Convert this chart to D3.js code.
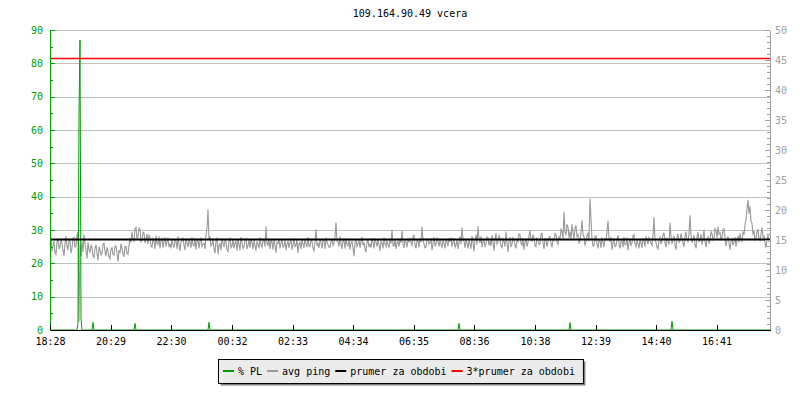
<!DOCTYPE html>
<html>
<head>
<meta charset="utf-8">
<script src="https://cdn.jsdelivr.net/npm/d3@7"></script>
<style>
body { margin: 0; background: #fff; }
text { font-family: "DejaVu Sans Mono", monospace; font-size: 10px; }
</style>
</head>
<body>
<div id="chart"></div>
<script>
var title = "109.164.90.49 vcera";
var startMinute = 18 * 60 + 28;
var timeTicks = ["18:28", "20:29", "22:30", "00:32", "02:33", "04:34",
    "06:35", "08:36", "10:38", "12:39", "14:40", "16:41"];

// avg ping [ms], one sample every 2 minutes from 18:28
var pingStep = 2;
var ping = [
    14.2, 15.4, 13.1, 14.0, 14.8, 12.9, 12.6, 14.7, 15.2, 13.5, 13.9, 15.1, 14.5, 13.2, 12.4, 14.4, 15.6, 14.0, 13.3, 15.0,
    14.9, 12.8, 13.6, 15.3, 15.4, 13.7, 14.1, 15.8, 16.4, 1.4, 14.2, 12.3, 14.8, 13.0, 15.9, 14.5, 13.2, 11.9, 14.6, 13.4,
    12.9, 14.1, 13.8, 12.4, 12.1, 13.6, 14.2, 12.8, 11.6, 13.9, 13.4, 12.5, 12.7, 14.3, 14.5, 13.0, 12.3, 13.8, 13.1, 12.2,
    11.9, 13.5, 13.7, 12.6, 12.5, 14.0, 14.0, 12.9, 11.4, 13.3, 12.8, 14.4, 13.6, 12.7, 12.2, 13.9, 13.9, 12.8, 12.6, 14.1,
    15.3, 14.6, 16.4, 15.1, 14.8, 16.9, 17.1, 15.2, 15.6, 17.0, 16.8, 14.7, 14.9, 16.3, 16.2, 14.5, 15.1, 16.0, 14.3, 15.8,
    15.5, 14.0, 13.8, 15.2, 14.9, 13.5, 15.7, 14.4, 14.2, 15.6, 13.6, 14.8, 15.2, 13.7, 14.6, 15.5, 13.9, 14.7, 15.4, 13.8,
    14.4, 13.6, 15.1, 14.3, 13.7, 15.0, 14.8, 13.5, 15.6, 14.2, 13.2, 14.6, 14.9, 15.4, 14.1, 13.3, 15.3, 14.5, 13.8, 15.1,
    14.6, 13.7, 15.5, 14.2, 14.0, 15.3, 13.4, 14.7, 15.2, 13.6, 14.7, 15.4, 13.9, 14.3, 14.5, 13.5, 15.8, 17.0, 20.1, 15.0,
    15.6, 14.0, 14.2, 15.3, 13.5, 12.8, 14.9, 15.4, 12.6, 14.1, 14.4, 13.3, 15.2, 14.6, 13.8, 15.0, 14.7, 13.4, 13.1, 14.8,
    15.4, 13.7, 14.0, 15.2, 13.6, 14.5, 14.8, 13.2, 15.1, 14.3, 13.3, 15.5, 14.5, 13.6, 13.9, 14.9, 15.3, 13.5, 14.1, 15.0,
    13.7, 15.2, 14.6, 13.5, 15.0, 14.1, 13.2, 14.8, 14.3, 13.6, 15.4, 14.2, 13.8, 15.1, 14.9, 13.9, 17.3, 14.4, 14.1, 15.3,
    13.5, 14.9, 14.7, 13.4, 15.1, 14.2, 12.9, 14.6, 14.4, 15.2, 13.6, 14.5, 15.2, 13.8, 14.0, 15.0, 13.3, 14.4, 14.8, 13.7,
    14.5, 15.1, 13.4, 14.2, 15.3, 13.9, 14.1, 15.0, 12.8, 14.3, 14.6, 13.5, 15.0, 14.4, 13.7, 15.2, 14.3, 13.8, 15.5, 14.0,
    13.9, 15.1, 14.8, 13.6, 13.2, 14.7, 16.8, 14.0, 14.4, 13.7, 15.1, 14.6, 13.6, 15.0, 14.9, 13.5, 15.4, 14.7, 14.2, 13.8,
    13.8, 14.7, 15.2, 14.1, 14.5, 15.6, 17.9, 14.8, 14.7, 13.9, 15.6, 14.4, 13.5, 15.0, 14.9, 13.6, 15.3, 14.2, 14.0, 15.2,
    13.4, 14.5, 14.8, 13.7, 12.3, 14.6, 15.1, 13.9, 14.3, 15.0, 13.7, 14.8, 15.5, 14.1, 14.6, 13.4, 13.1, 14.7, 14.9, 13.8,
    14.4, 13.7, 15.3, 14.6, 13.6, 15.1, 14.7, 13.9, 15.0, 14.2, 13.2, 14.8, 14.5, 13.6, 15.4, 14.3, 13.9, 15.0, 14.2, 13.8,
    15.1, 14.4, 16.7, 14.1, 14.0, 15.2, 13.5, 14.6, 14.8, 13.9, 15.2, 14.5, 16.6, 14.3, 13.7, 15.1, 14.6, 13.8, 15.0, 14.7,
    15.4, 14.5, 14.1, 15.6, 15.8, 14.2, 13.6, 14.9, 14.9, 13.8, 15.3, 14.6, 17.2, 15.0, 14.4, 13.7, 13.8, 15.2, 15.1, 14.3,
    14.6, 15.3, 13.3, 14.5, 15.5, 14.0, 14.2, 15.4, 14.8, 13.9, 15.0, 14.4, 13.7, 15.1, 14.5, 13.6, 15.2, 14.7, 14.0, 15.3,
    14.7, 15.4, 13.9, 14.6, 15.3, 13.8, 14.2, 15.1, 13.5, 14.7, 15.6, 14.3, 17.1, 15.0, 14.8, 13.7, 15.2, 14.5, 13.6, 15.0,
    14.4, 13.5, 15.7, 14.6, 13.1, 14.9, 15.9, 14.2, 17.3, 15.1, 14.5, 15.6, 13.8, 14.7, 15.0, 13.9, 14.3, 15.5, 15.4, 14.1,
    14.9, 14.0, 15.8, 14.6, 13.2, 15.1, 16.1, 14.3, 14.6, 15.7, 15.3, 14.0, 13.7, 15.2, 14.8, 13.9, 16.4, 14.5, 13.0, 14.8,
    15.5, 13.8, 14.3, 15.4, 15.1, 14.2, 13.6, 15.0, 14.7, 16.0, 15.9, 14.4, 14.1, 15.3, 13.4, 14.6, 15.2, 13.9, 14.6, 15.7,
    16.6, 14.9, 14.8, 15.9, 15.4, 14.1, 13.9, 15.3, 15.1, 14.2, 14.4, 15.8, 16.2, 14.6, 13.5, 15.2, 15.0, 13.9, 14.7, 15.5,
    15.6, 14.4, 13.8, 15.1, 14.9, 16.1, 16.0, 14.7, 14.3, 15.5, 15.3, 16.8, 16.5, 15.2, 19.7, 16.4, 15.8, 17.6, 17.2, 15.4,
    16.4, 15.1, 17.6, 16.2, 15.2, 17.0, 17.4, 15.6, 15.9, 14.5, 14.8, 16.3, 18.3, 15.9, 15.5, 14.2, 14.6, 15.8, 16.1, 14.9,
    21.9, 18.5, 15.2, 14.0, 14.1, 15.6, 15.7, 14.3, 13.6, 15.0, 14.9, 13.7, 15.4, 14.6, 13.8, 15.2, 15.0, 16.4, 18.2, 15.3,
    14.7, 15.5, 13.4, 14.5, 15.3, 13.9, 14.0, 15.1, 15.8, 14.4, 13.6, 14.8, 14.9, 13.8, 15.5, 14.2, 14.2, 15.4, 13.3, 14.6,
    15.1, 14.0, 14.6, 15.7, 15.9, 14.3, 13.9, 15.0, 14.4, 13.6, 15.2, 14.5, 13.7, 15.3, 14.8, 13.9, 15.6, 14.9, 14.3, 15.4,
    15.0, 14.4, 14.1, 15.9, 18.8, 15.2, 14.6, 13.8, 13.5, 15.0, 15.4, 14.3, 14.9, 15.8, 16.2, 14.5, 13.8, 15.3, 15.1, 14.2,
    17.9, 15.6, 14.3, 15.2, 15.7, 14.1, 13.4, 15.5, 16.0, 14.6, 14.8, 16.1, 15.3, 14.4, 13.9, 15.6, 16.4, 15.0, 14.7, 16.0,
    19.1, 15.8, 14.5, 15.2, 15.8, 14.3, 13.6, 15.5, 16.3, 14.6, 15.0, 16.0, 14.2, 15.1, 16.7, 14.8, 13.8, 15.2, 15.5, 14.4,
    14.9, 16.4, 16.1, 15.0, 15.3, 16.9, 16.6, 15.4, 17.2, 16.0, 16.2, 15.1, 15.4, 16.7, 16.9, 15.3, 14.0, 15.0, 15.6, 14.5,
    13.4, 14.8, 15.2, 14.1, 14.6, 15.5, 13.9, 15.0, 15.7, 14.6, 16.1, 15.2, 14.8, 16.3, 15.9, 17.5, 18.4, 20.2, 21.7, 19.4,
    20.6, 18.1, 17.8, 15.9, 16.5, 15.0, 15.3, 16.4, 16.8, 15.2, 14.9, 16.0, 17.1, 15.4, 15.6, 14.5, 13.7, 15.1, 15.8, 14.6
];

// packet loss [%], sampled every 2 minutes, zero except these samples
var plStep = 2;
var plMinutes = [56, 58, 60, 62, 86, 170, 318, 818, 1040, 1244];
var plValues = [2.0, 65, 87, 3.5, 2.3, 2.0, 2.3, 2.0, 2.2, 2.6];

var pingMean = 15.08;

var legendLabels = ["% PL", "avg ping", "prumer za obdobi", "3*prumer za obdobi"];

var colors = { pl: "#00a000", ping: "#999999", mean: "#000000", mean3: "#ff0000" };

var width = 800, height = 400;
var margin = { top: 30, right: 30, bottom: 70, left: 50 };

var svg = d3.select("#chart").append("svg")
    .attr("width", width)
    .attr("height", height);

var x = d3.scaleLinear().domain([0, 1440]).range([margin.left, width - margin.right]);
var yPL = d3.scaleLinear().domain([0, 90]).range([height - margin.bottom, margin.top]);
var yPing = d3.scaleLinear().domain([0, 50]).range([height - margin.bottom, margin.top]);

var tickMinutes = timeTicks.map(function(t) {
    var p = t.split(":");
    var m = +p[0] * 60 + +p[1] - startMinute;
    return m < 0 ? m + 1440 : m;
});

// title
svg.append("text")
    .attr("x", (x.range()[0] + x.range()[1]) / 2)
    .attr("y", 17)
    .attr("text-anchor", "middle")
    .attr("fill", "#000")
    .text(title);

// grid
svg.append("g")
    .selectAll("line")
    .data(d3.range(10, 91, 10))
    .enter().append("line")
    .attr("x1", x.range()[0])
    .attr("x2", x.range()[1])
    .attr("y1", function(d) { return Math.round(yPL(d)) + 0.5; })
    .attr("y2", function(d) { return Math.round(yPL(d)) + 0.5; })
    .attr("stroke", "#c0c0c0");

// avg ping
var pingLine = d3.line()
    .x(function(d, i) { return x(i * pingStep); })
    .y(function(d) { return yPing(d); });

svg.append("path")
    .datum(ping)
    .attr("fill", "none")
    .attr("stroke", colors.ping)
    .attr("stroke-width", 1.1)
    .attr("d", pingLine);

// packet loss
var plLookup = {};
plMinutes.forEach(function(m, i) { plLookup[m] = plValues[i]; });
var plSeries = d3.range(0, 1441, plStep).map(function(m) {
    return [m, plLookup[m] || 0];
});

svg.append("path")
    .datum(plSeries)
    .attr("fill", "none")
    .attr("stroke", colors.pl)
    .attr("stroke-width", 1)
    .attr("d", d3.line()
        .x(function(d) { return x(d[0]); })
        .y(function(d) { return yPL(d[1]); }));

// mean lines
svg.append("line")
    .attr("x1", x.range()[0]).attr("x2", x.range()[1])
    .attr("y1", yPing(pingMean)).attr("y2", yPing(pingMean))
    .attr("stroke", colors.mean)
    .attr("stroke-width", 2);

svg.append("line")
    .attr("x1", x.range()[0]).attr("x2", x.range()[1])
    .attr("y1", yPing(3 * pingMean)).attr("y2", yPing(3 * pingMean))
    .attr("stroke", colors.mean3)
    .attr("stroke-width", 1.5);

// left axis (PL)
var leftG = svg.append("g")
    .attr("transform", "translate(" + x.range()[0] + ",0)")
    .attr("color", colors.pl);
leftG.call(d3.axisLeft(yPL).tickValues(d3.range(5, 90, 10))
    .tickSizeInner(-3).tickSizeOuter(0).tickFormat(""));
leftG.append("g").call(d3.axisLeft(yPL).tickValues(d3.range(0, 91, 10))
    .tickSizeInner(-5).tickSizeOuter(0).tickPadding(7));

// right axis (ping)
var rightG = svg.append("g")
    .attr("transform", "translate(" + x.range()[1] + ",0)")
    .attr("color", "#a0a0a0");
rightG.call(d3.axisRight(yPing).tickValues(d3.range(0, 51, 1))
    .tickSizeInner(-3).tickSizeOuter(0).tickFormat(""));
rightG.append("g").call(d3.axisRight(yPing).tickValues(d3.range(0, 51, 5))
    .tickSizeInner(-5).tickSizeOuter(0).tickPadding(5));

// x axis
svg.append("g")
    .attr("transform", "translate(0," + yPL(0) + ")")
    .attr("color", "#000")
    .call(d3.axisBottom(x).tickValues(tickMinutes)
        .tickFormat(function(d, i) { return timeTicks[i]; })
        .tickSizeInner(-5).tickSizeOuter(0).tickPadding(8));

svg.selectAll(".domain").attr("shape-rendering", "crispEdges");
svg.selectAll(".tick line").attr("shape-rendering", "crispEdges");

// legend
var charW = 6.02;
var items = [];
var cx = 0;
legendLabels.forEach(function(label, i) {
    items.push({ label: label, color: [colors.pl, colors.ping, colors.mean, colors.mean3][i], x: cx });
    cx += 15 + label.length * charW + 5;
});
var legendW = cx - 5 + 13;
var legendX = Math.round(width / 2 - legendW / 2) + 0.5;
var legendY = 359.5;

svg.append("rect")
    .attr("x", legendX + 2).attr("y", legendY + 2)
    .attr("width", legendW).attr("height", 24)
    .attr("fill", "#808080");
svg.append("rect")
    .attr("x", legendX).attr("y", legendY)
    .attr("width", legendW).attr("height", 24)
    .attr("fill", "#ebebeb")
    .attr("stroke", "#000");

var lg = svg.append("g").attr("transform", "translate(" + (legendX + 4.5) + "," + (legendY + 11.5) + ")");
var it = lg.selectAll("g").data(items).enter().append("g")
    .attr("transform", function(d) { return "translate(" + d.x + ",0)"; });
it.append("line")
    .attr("x1", 0).attr("x2", 11)
    .attr("stroke", function(d) { return d.color; })
    .attr("stroke-width", 2);
it.append("text")
    .attr("x", 15)
    .attr("y", 3.5)
    .attr("fill", "#000")
    .text(function(d) { return d.label; });
</script>
</body>
</html>
